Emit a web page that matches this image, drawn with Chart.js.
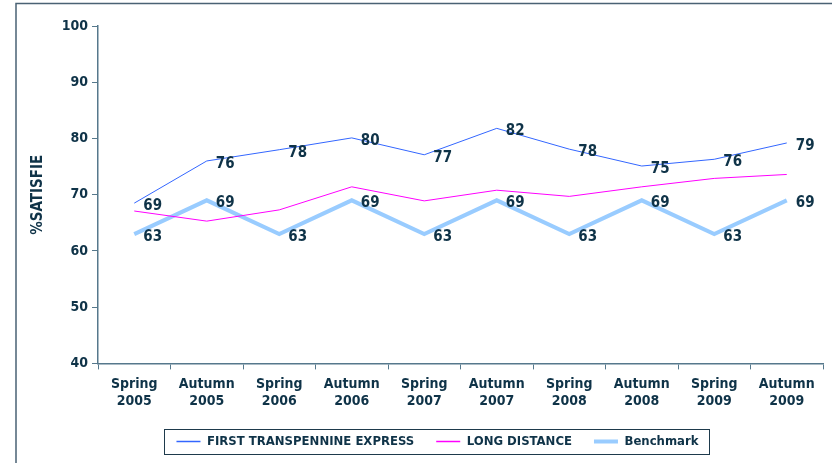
<!DOCTYPE html>
<html>
<head>
<meta charset="utf-8">
<script src="https://cdn.jsdelivr.net/npm/chart.js@4/dist/chart.umd.min.js"></script>
<style>
html,body{margin:0;padding:0;background:#fff;overflow:hidden;}
#wrap{position:absolute;left:0;top:0;width:832px;height:463px;}
</style>
</head>
<body>
<div id="wrap"><canvas id="c" width="832" height="463"></canvas></div>
<script>
const categories = [["Spring","2005"],["Autumn","2005"],["Spring","2006"],["Autumn","2006"],["Spring","2007"],["Autumn","2007"],["Spring","2008"],["Autumn","2008"],["Spring","2009"],["Autumn","2009"]];
const firstTranspennine = [68.5, 76.0, 78.0, 80.1, 77.1, 81.8, 78.1, 75.1, 76.3, 79.2];
const longDistance = [67.1, 65.3, 67.3, 71.4, 68.9, 70.8, 69.7, 71.4, 72.9, 73.6];
const benchmark = [63, 69, 63, 69, 63, 69, 63, 69, 63, 69];
const yTicks = [40, 50, 60, 70, 80, 90, 100];

const TEXT = '#0f3348';
const AXIS = '#56788c';
const FONT = "'DejaVu Sans Condensed', 'DejaVu Sans', Verdana, sans-serif";

const labelPlugin = {
  id: 'valueLabels',
  afterDatasetsDraw(chart) {
    const ctx = chart.ctx;
    ctx.save();
    ctx.font = "bold 15px " + FONT;
    ctx.fillStyle = TEXT;
    ctx.textAlign = 'left';
    ctx.textBaseline = 'middle';
    chart.data.datasets.forEach((ds, di) => {
      if (!ds.showValues) return;
      const meta = chart.getDatasetMeta(di);
      meta.data.forEach((pt, i) => {
        ctx.fillText(String(Math.round(ds.data[i])), pt.x + 9, pt.y + 3);
      });
    });
    ctx.restore();
  }
};

const framePlugin = {
  id: 'frame',
  beforeDraw(chart) {
    const ctx = chart.ctx;
    ctx.save();
    ctx.strokeStyle = '#4a6274';
    ctx.lineWidth = 1.5;
    ctx.strokeRect(16, 3.5, 1000, 1000);
    ctx.restore();
  },
  afterLayout(chart) {
    const lg = chart.legend;
    if (!lg) return;
    const dx = 13, dy = -4;
    lg.left += dx; lg.right += dx;
    lg.top += dy; lg.bottom += dy;
  },
  afterDraw(chart) {
    const lg = chart.legend;
    if (!lg || !lg.legendHitBoxes || !lg.legendHitBoxes.length) return;
    const hb = lg.legendHitBoxes;
    const first = hb[0], last = hb[hb.length - 1];
    const ctx = chart.ctx;
    ctx.save();
    ctx.strokeStyle = '#1e3a4c';
    ctx.lineWidth = 1;
    const x0 = Math.round(first.left - 12) + 0.5;
    const x1 = Math.round(last.left + last.width + 10) + 0.5;
    const cy = first.top + first.height / 2 + (lg.top - lg._origTop || 0);
    ctx.strokeRect(x0, Math.round(cy - 12.5) + 0.5, x1 - x0, 25);
    ctx.restore();
  }
};

new Chart(document.getElementById('c'), {
  type: 'line',
  data: {
    labels: categories,
    datasets: [
      { label: 'FIRST TRANSPENNINE EXPRESS', data: firstTranspennine, borderColor: '#3366ff', backgroundColor: '#3366ff', borderWidth: 1, pointRadius: 0, tension: 0, showValues: true },
      { label: 'LONG DISTANCE', data: longDistance, borderColor: '#ff00ff', backgroundColor: '#ff00ff', borderWidth: 1, pointRadius: 0, tension: 0, showValues: false },
      { label: 'Benchmark', data: benchmark, borderColor: '#99ccff', backgroundColor: '#99ccff', borderWidth: 4, pointRadius: 0, tension: 0, showValues: true }
    ]
  },
  options: {
    responsive: false,
    animation: false,
    devicePixelRatio: 1,
    layout: { padding: { left: 26, right: 9, top: 26, bottom: 1 } },
    plugins: {
      tooltip: { enabled: false },
      legend: {
        position: 'bottom',
        labels: {
          usePointStyle: true,
          pointStyle: 'line',
          pointStyleWidth: 24,
          padding: 22,
          color: TEXT,
          font: { family: FONT, size: 13, weight: 'bold' },
          generateLabels(chart) {
            return chart.data.datasets.map((ds, i) => ({
              text: ds.label, fillStyle: ds.borderColor, strokeStyle: ds.borderColor,
              lineWidth: ds.borderWidth === 4 ? 4 : 1.5, pointStyle: 'line', datasetIndex: i, hidden: false, fontColor: TEXT
            }));
          }
        }
      }
    },
    scales: {
      x: {
        offset: true,
        grid: { display: true, drawOnChartArea: false, offset: true, tickLength: 6, color: AXIS, lineWidth: 1 },
        border: { display: true, color: AXIS, width: 1.5 },
        ticks: { color: TEXT, font: { family: FONT, size: 14, weight: 'bold' }, maxRotation: 0, autoSkip: false, padding: 7 }
      },
      y: {
        min: 40, max: 100,
        afterBuildTicks(scale) { scale.ticks = yTicks.map(v => ({ value: v })); },
        afterFit(scale) { scale.width = 72; },
        grid: { display: true, drawOnChartArea: false, tickLength: 6, color: AXIS, lineWidth: 1 },
        border: { display: true, color: AXIS, width: 1.5 },
        ticks: { color: TEXT, font: { family: FONT, size: 14, weight: 'bold' }, padding: 4 },
        title: { display: true, text: '%SATISFIE', color: TEXT, font: { family: FONT, size: 15, weight: 'bold' }, padding: { top: 3, bottom: 0 } }
      }
    }
  },
  plugins: [labelPlugin, framePlugin]
});
</script>
</body>
</html>
